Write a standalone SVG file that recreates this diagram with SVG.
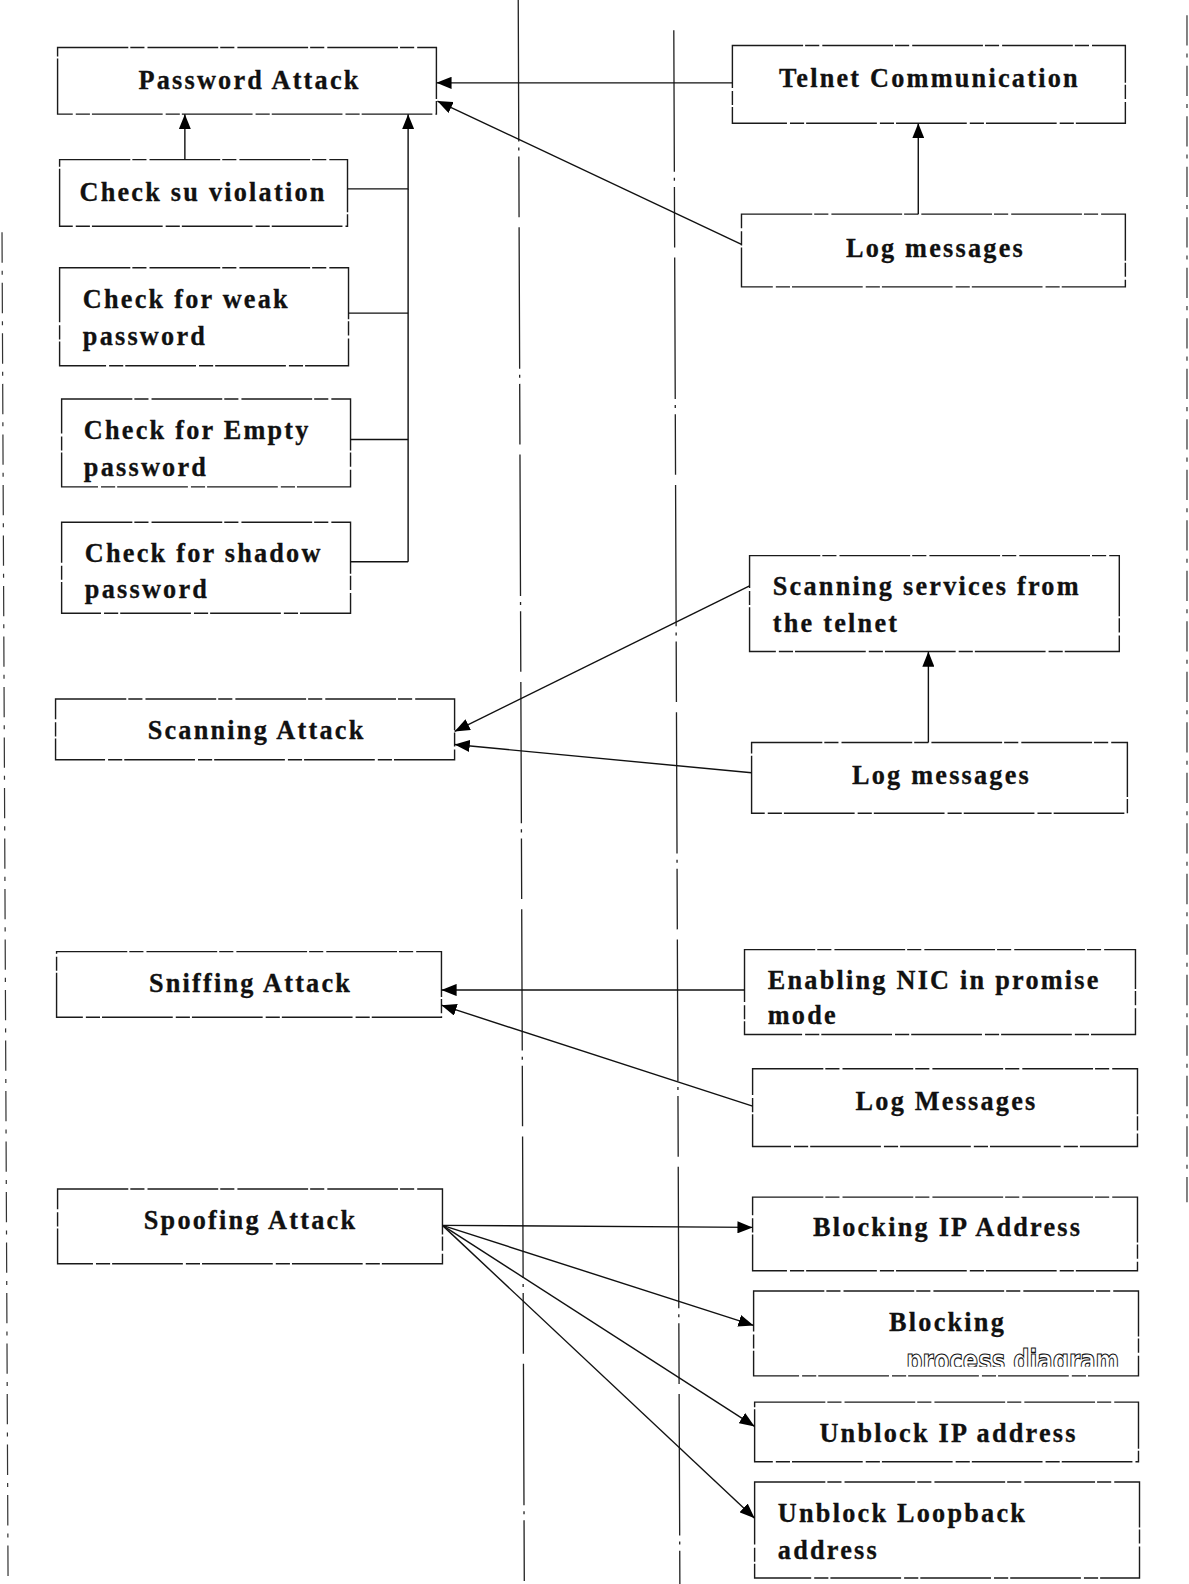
<svg xmlns="http://www.w3.org/2000/svg" width="1189" height="1584" viewBox="0 0 1189 1584">
<style>
.box{fill:none;stroke:#1a1a1a;stroke-width:1.4;stroke-dasharray:70 2 14 3}
.t{font-family:"Liberation Serif","Times New Roman",serif;font-weight:bold;font-size:26px;letter-spacing:2.2px;fill:#111;stroke:#111;stroke-width:0.3}
.c{text-anchor:middle}
.conn{stroke:#111;stroke-width:1.4;fill:none}
.guide{stroke:#222;stroke-width:1.3;fill:none;stroke-dasharray:140 6 3 6 60 10}
.edge{stroke:#333;stroke-width:1.2;fill:none;stroke-dasharray:30 8 4 8}
.wm{font-family:"DejaVu Sans",sans-serif;font-weight:bold;font-size:30px;fill:#fff;stroke:#111;stroke-width:1.2}
</style>
<defs>
<marker id="ah" markerUnits="userSpaceOnUse" markerWidth="15" markerHeight="12" refX="15" refY="6" orient="auto"><path d="M0,0 L15,6 L0,12 z" fill="#000"/></marker>
<clipPath id="wmclip"><rect x="746" y="1320" width="381" height="33"/></clipPath>
</defs>
<rect width="1189" height="1584" fill="#fff"/>
<g transform="scale(1.0102)">
<g id="guides">
<line class="guide" x1="513" y1="0" x2="519" y2="1568"/>
<line class="guide" x1="667" y1="30" x2="673" y2="1568"/>
<line class="edge" x1="2" y1="230" x2="8" y2="1568"/>
<line class="edge" x1="1175" y1="15" x2="1175" y2="1190"/>
</g>
<g id="password-attack"><rect class="box" x="57" y="47" width="375" height="66"/><text class="t c" x="247" y="88">Password Attack</text></g>
<g id="telnet-communication"><rect class="box" x="725" y="45" width="389" height="77"/><text class="t c" x="920" y="86">Telnet Communication</text></g>
<g id="check-su"><rect class="box" x="59" y="158" width="285" height="66"/><text class="t c" x="201" y="199">Check su violation</text></g>
<g id="log-messages-1"><rect class="box" x="734" y="212" width="380" height="72"/><text class="t c" x="926" y="254">Log messages</text></g>
<g id="check-weak"><rect class="box" x="59" y="265" width="286" height="97"/><text class="t" x="82" y="305">Check for weak</text><text class="t" x="82" y="342">password</text></g>
<g id="check-empty"><rect class="box" x="61" y="395" width="286" height="87"/><text class="t" x="83" y="435">Check for Empty</text><text class="t" x="83" y="471">password</text></g>
<g id="check-shadow"><rect class="box" x="61" y="517" width="286" height="90"/><text class="t" x="84" y="556">Check for shadow</text><text class="t" x="84" y="592">password</text></g>
<g id="scanning-services"><rect class="box" x="742" y="550" width="366" height="95"/><text class="t" x="765" y="589">Scanning services from</text><text class="t" x="765" y="626">the telnet</text></g>
<g id="scanning-attack"><rect class="box" x="55" y="692" width="395" height="60"/><text class="t c" x="254" y="732">Scanning Attack</text></g>
<g id="log-messages-2"><rect class="box" x="744" y="735" width="372" height="70"/><text class="t c" x="932" y="776">Log messages</text></g>
<g id="sniffing-attack"><rect class="box" x="56" y="942" width="381" height="65"/><text class="t c" x="248" y="982">Sniffing Attack</text></g>
<g id="enabling-nic"><rect class="box" x="737" y="940" width="387" height="84"/><text class="t" x="760" y="979">Enabling NIC in promise</text><text class="t" x="760" y="1014">mode</text></g>
<g id="log-messages-3"><rect class="box" x="745" y="1058" width="381" height="77"/><text class="t c" x="937" y="1099">Log Messages</text></g>
<g id="spoofing-attack"><rect class="box" x="57" y="1177" width="381" height="74"/><text class="t c" x="248" y="1217">Spoofing Attack</text></g>
<g id="blocking-ip"><rect class="box" x="745" y="1185" width="381" height="73"/><text class="t c" x="938" y="1224">Blocking IP Address</text></g>
<g id="blocking"><rect class="box" x="746" y="1278" width="381" height="84"/><text class="t c" x="938" y="1318">Blocking</text><text class="wm" x="897" y="1357" textLength="211" lengthAdjust="spacingAndGlyphs" clip-path="url(#wmclip)">process diagram</text></g>
<g id="unblock-ip"><rect class="box" x="747" y="1388" width="380" height="59"/><text class="t c" x="939" y="1427">Unblock IP address</text></g>
<g id="unblock-loopback"><rect class="box" x="747" y="1467" width="381" height="95"/><text class="t" x="770" y="1507">Unblock Loopback</text><text class="t" x="770" y="1543">address</text></g>
<g id="connectors">
<line class="conn" x1="725" y1="82" x2="432" y2="82" marker-end="url(#ah)"/>
<line class="conn" x1="734" y1="242" x2="433" y2="100" marker-end="url(#ah)"/>
<line class="conn" x1="909" y1="212" x2="909" y2="122" marker-end="url(#ah)"/>
<line class="conn" x1="183" y1="158" x2="183" y2="113" marker-end="url(#ah)"/>
<polyline class="conn" points="344,187 404,187 404,113" marker-end="url(#ah)"/>
<line class="conn" x1="404" y1="187" x2="404" y2="556"/>
<line class="conn" x1="345" y1="310" x2="404" y2="310"/>
<line class="conn" x1="347" y1="435" x2="404" y2="435"/>
<line class="conn" x1="347" y1="556" x2="404" y2="556"/>
<line class="conn" x1="742" y1="580" x2="450" y2="724" marker-end="url(#ah)"/>
<line class="conn" x1="744" y1="765" x2="450" y2="737" marker-end="url(#ah)"/>
<line class="conn" x1="919" y1="735" x2="919" y2="645" marker-end="url(#ah)"/>
<line class="conn" x1="737" y1="980" x2="437" y2="980" marker-end="url(#ah)"/>
<line class="conn" x1="745" y1="1095" x2="437" y2="995" marker-end="url(#ah)"/>
<line class="conn" x1="438" y1="1213" x2="745" y2="1215" marker-end="url(#ah)"/>
<line class="conn" x1="438" y1="1213" x2="746" y2="1312" marker-end="url(#ah)"/>
<line class="conn" x1="438" y1="1213" x2="747" y2="1412" marker-end="url(#ah)"/>
<line class="conn" x1="438" y1="1213" x2="747" y2="1503" marker-end="url(#ah)"/>
</g>
</g>
</svg>
